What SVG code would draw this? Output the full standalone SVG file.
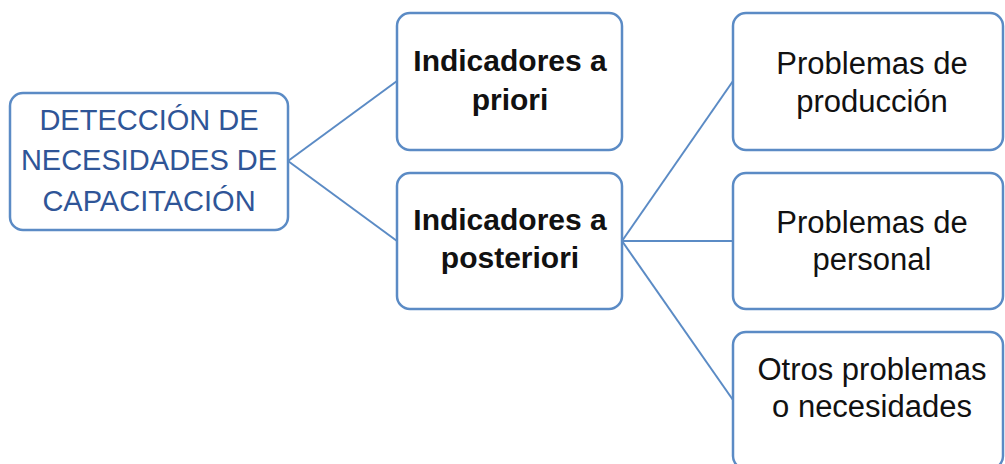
<svg xmlns="http://www.w3.org/2000/svg" width="1005" height="464" viewBox="0 0 1005 464">
<style>
.box{fill:#fff;stroke:#5B8BC5;stroke-width:2.5}
.conn{stroke:#5B8BC5;stroke-width:2;fill:none}
.t{font-family:"Liberation Sans",Arial,sans-serif;text-anchor:middle;fill:#111}
.root{fill:#2F5597;font-size:29px}
.b{font-weight:bold;font-size:30px}
.r{font-size:31px}
</style>
<rect width="1005" height="464" fill="#fff"/>
<g id="connectors">
<line class="conn" x1="288" y1="161" x2="397" y2="81"/>
<line class="conn" x1="288" y1="161" x2="397" y2="241"/>
<line class="conn" x1="622" y1="241" x2="733" y2="81"/>
<line class="conn" x1="622" y1="241" x2="733" y2="241"/>
<line class="conn" x1="622" y1="241" x2="733" y2="400"/>
</g>
<g id="root">
<rect class="box" x="10" y="93" width="278" height="137" rx="13"/>
<text class="t root" x="149" y="130">DETECCIÓN DE</text>
<text class="t root" x="149" y="170">NECESIDADES DE</text>
<text class="t root" x="149" y="211">CAPACITACIÓN</text>
</g>
<g id="priori">
<rect class="box" x="397" y="13" width="225" height="137" rx="13"/>
<text class="t b" x="510" y="71">Indicadores a</text>
<text class="t b" x="510" y="110">priori</text>
</g>
<g id="posteriori">
<rect class="box" x="397" y="173" width="225" height="136" rx="13"/>
<text class="t b" x="510" y="230">Indicadores a</text>
<text class="t b" x="510" y="268">posteriori</text>
</g>
<g id="produccion">
<rect class="box" x="733" y="13" width="270" height="137" rx="13"/>
<text class="t r" x="872" y="74">Problemas de</text>
<text class="t r" x="872" y="112">producción</text>
</g>
<g id="personal">
<rect class="box" x="733" y="173" width="270" height="136" rx="13"/>
<text class="t r" x="872" y="233">Problemas de</text>
<text class="t r" x="872" y="270">personal</text>
</g>
<g id="otros">
<rect class="box" x="733" y="332" width="270" height="137" rx="13"/>
<text class="t r" x="872" y="380">Otros problemas</text>
<text class="t r" x="872" y="417">o necesidades</text>
</g>
</svg>
